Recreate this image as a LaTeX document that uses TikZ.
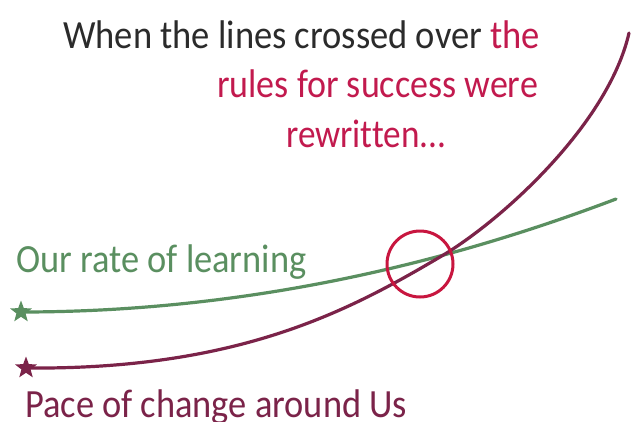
\documentclass[tikz,border=0pt]{standalone}
\usepackage{fontspec}
\setmainfont{Carlito}[Ligatures=CommonOff]
\usetikzlibrary{shapes.geometric}
\definecolor{txtdark}{HTML}{2B2B2B}
\definecolor{txtred}{HTML}{C21A4E}
\definecolor{learngreen}{HTML}{5A8F60}
\definecolor{pacemaroon}{HTML}{7B2349}
\definecolor{ringred}{HTML}{C8163F}
\tikzset{
  lbl/.style={anchor=base west, inner sep=0pt, font=\fontsize{40}{40}\selectfont},
  curve/.style={line width=3.2pt, line cap=round},
  starmark/.style={star, star points=5, star point ratio=2.4, minimum size=23pt, inner sep=0pt},
}
\begin{document}
\begin{tikzpicture}[x=1pt,y=-1pt]
\useasboundingbox (0,0) rectangle (640,421);
\fill[white] (0,0) rectangle (640,421);
% title
\node[lbl, text=txtdark] (t1) at (63,48) {\scalebox{0.913}[1]{When the lines crossed over \textcolor{txtred}{the}}};
\node[lbl, text=txtred] (t2) at (217,97) {\scalebox{0.9}[1]{rules for success were}};
\node[lbl, text=txtred] (t3) at (286,147) {\scalebox{0.88}[1]{rewritten...}};
% curves
\node[starmark, fill=learngreen] (gs) at (21,312) {};
\node[starmark, fill=pacemaroon] (ms) at (26,368) {};
\coordinate (cross) at (440,257);
\coordinate (gend) at (616,199);
\coordinate (mend) at (629,33);
\draw[curve, learngreen] (gs.center) .. controls (250,312) and (450,262) .. (gend);
\draw[curve, pacemaroon] (ms.center) .. controls (240,370) and (350,310) .. (cross)
   .. controls (500,222) and (608,125) .. (mend);
% ring
\node[draw=ringred, line width=3pt, circle, minimum size=66pt, inner sep=0pt] (ring) at (420,264) {};
% labels
\node[lbl, text=learngreen] (l1) at (16,272) {\scalebox{0.91}[1]{Our rate of learning}};
\node[lbl, text=pacemaroon] (l2) at (25,417) {\scalebox{0.91}[1]{Pace of change around Us}};
\end{tikzpicture}
\end{document}
